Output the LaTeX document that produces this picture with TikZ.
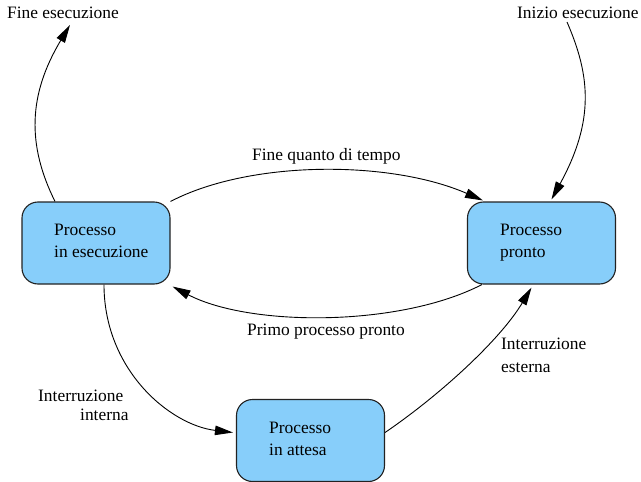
\documentclass[tikz,border=0pt]{standalone}
\usepackage{fontspec}
\setmainfont{Liberation Serif}
\usetikzlibrary{arrows.meta}
\definecolor{boxblue}{RGB}{135,206,250}
\definecolor{boxline}{RGB}{34,34,34}
\tikzset{
  procbox/.style={draw=boxline, line width=1.1pt, fill=boxblue, rounded corners=16pt,
    minimum width=148pt, minimum height=82pt, inner sep=0pt},
  txt/.style={inner sep=0pt, anchor=base west, font=\fontsize{17.4}{22}\selectfont, text=black},
  conn/.style={draw=black, line width=0.9pt, -{Triangle[length=18pt,width=9.5pt]}}
}
\begin{document}
\begin{tikzpicture}[x=1pt,y=-1pt]
\useasboundingbox (0,0) rectangle (641,482);
% boxes
\node[procbox] (b1) at (96,243) {};
\node[procbox] (b2) at (541.5,243) {};
\node[procbox] (b3) at (310.5,440.5) {};
% box texts
\node[txt] (b1a) at (54,235) {Processo};
\node[txt] (b1b) at (54,257) {in esecuzione};
\node[txt] (b2a) at (500,235) {Processo};
\node[txt] (b2b) at (500,257) {pronto};
\node[txt] (b3a) at (269,433) {Processo};
\node[txt] (b3b) at (269,455) {in attesa};
% labels
\node[txt] (fe) at (7,18) {Fine esecuzione};
\node[txt] (ie) at (517,18) {Inizio esecuzione};
\node[txt] (fq) at (252,160) {Fine quanto di tempo};
\node[txt] (pp) at (247,335) {Primo processo pronto};
\node[txt] (ii1) at (38,401) {Interruzione};
\node[txt] (ii2) at (80,420) {interna};
\node[txt] (ie1) at (501,349) {Interruzione};
\node[txt] (ie2) at (501,372) {esterna};
% free ends
\coordinate (feEnd) at (70,25);
\coordinate (ieStart) at (567,22);
% connectors
\draw[conn] ([xshift=-41pt]b1.north) .. controls (27,145) and (28,95) .. (feEnd);
\draw[conn] (ieStart) .. controls (590,75) and (595,120) .. ([xshift=10pt,yshift=2pt]b2.north);
\draw[conn] (b1.north east) .. controls (250,160) and (390,160) .. ([xshift=16pt,yshift=1pt]b2.north west);
\draw[conn] ([xshift=15pt]b2.south west) .. controls (400,327) and (250,327) .. ([xshift=2pt,yshift=-2pt]b1.south east);
\draw[conn] ([xshift=8pt]b1.south) .. controls (104,370) and (170,425) .. ([xshift=-3pt,yshift=8pt]b3.west);
\draw[conn] ([yshift=8pt]b3.east) .. controls (440,395) and (500,340) .. ([xshift=-10pt,yshift=-3pt]b2.south);
\end{tikzpicture}
\end{document}
